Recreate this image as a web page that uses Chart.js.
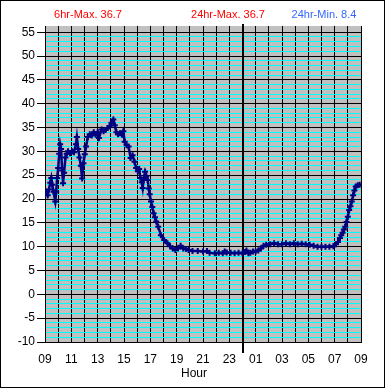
<!DOCTYPE html>
<html>
<head>
<meta charset="utf-8">
<script src="https://cdn.jsdelivr.net/npm/chart.js@4"></script>
<style>
  body { margin: 0; background: #fff; }
  canvas { display: block; }
</style>
</head>
<body>
<canvas id="tempChart" width="385" height="388"></canvas>
<script>
// hours since 09:00
const hourOffsets = [
  0.00, 0.10, 0.20, 0.30, 0.40, 0.48, 0.55, 0.65, 0.78, 0.85, 0.92, 1.00, 1.08, 1.15, 1.22, 1.30,
  1.37, 1.45, 1.55, 1.65, 1.75, 1.90, 2.05, 2.20, 2.35, 2.42, 2.52, 2.62, 2.72, 2.82, 2.92, 3.02,
  3.12, 3.25, 3.40, 3.55, 3.70, 3.85, 4.00, 4.10, 4.30, 4.45, 4.60, 4.75, 4.90, 5.05, 5.19, 5.30,
  5.42, 5.55, 5.70, 5.85, 5.95, 6.05, 6.20, 6.35, 6.50, 6.65, 6.80, 6.92, 7.05, 7.15, 7.25, 7.35,
  7.42, 7.50, 7.60, 7.70, 7.80, 7.88, 7.95, 8.05, 8.15, 8.25, 8.35, 8.45, 8.60, 8.80, 9.05, 9.30,
  9.50, 9.70, 9.90, 10.10, 10.30, 10.50, 10.70, 10.90, 11.20, 11.60, 12.00, 12.30, 12.50, 12.90, 13.20, 13.50,
  13.65, 13.80, 14.10, 14.40, 14.70, 15.00, 15.20, 15.30, 15.45, 15.60, 15.80, 16.00, 16.20, 16.40, 16.60, 16.80,
  17.10, 17.40, 17.70, 18.00, 18.30, 18.60, 18.90, 19.20, 19.50, 19.80, 20.10, 20.40, 20.70, 21.00, 21.30, 21.60,
  21.90, 22.10, 22.25, 22.40, 22.50, 22.60, 22.70, 22.80, 22.90, 23.00, 23.10, 23.20, 23.30, 23.40, 23.50, 23.60,
  23.75, 23.90
];
const temps = [
  21.0, 21.5, 20.8, 22.0, 23.4, 24.4, 23.0, 21.5, 19.5, 21.5, 24.4, 26.5, 29.5, 31.5, 30.5, 26.0,
  23.3, 25.5, 28.7, 29.5, 30.0, 29.6, 30.0, 29.8, 31.5, 33.0, 30.5, 28.7, 27.0, 24.3, 27.5, 29.4,
  31.0, 33.0, 33.6, 33.3, 34.0, 33.5, 34.0, 32.8, 34.6, 34.2, 34.5, 34.9, 35.2, 36.0, 36.7, 35.5,
  34.0, 33.6, 33.8, 33.5, 34.2, 32.0, 31.3, 31.0, 28.6, 29.2, 27.8, 26.5, 25.8, 26.3, 24.4, 23.5,
  22.3, 24.4, 25.7, 24.8, 24.0, 22.2, 21.0, 19.5, 18.3, 17.0, 16.2, 15.3, 14.2, 12.4, 11.4, 10.7,
  10.1, 9.6, 9.3, 9.6, 10.2, 9.6, 9.5, 9.3, 9.1, 9.1, 9.0, 9.1, 8.7, 8.6, 8.7, 8.6,
  9.0, 8.8, 8.7, 8.6, 8.7, 8.6, 8.9, 9.2, 8.6, 8.7, 9.0, 9.0, 9.2, 9.6, 10.2, 10.4,
  10.5, 10.7, 10.5, 10.5, 10.7, 10.5, 10.7, 10.5, 10.6, 10.5, 10.4, 10.2, 10.0, 10.0, 10.0, 10.0,
  10.1, 10.5, 11.0, 11.8, 12.4, 12.9, 13.6, 14.2, 15.2, 16.3, 17.7, 18.5, 19.5, 20.8, 21.8, 22.6,
  22.9, 23.0
];
const hourLabels = ['09', '11', '13', '15', '17', '19', '21', '23', '01', '03', '05', '07', '09'];
const midnightOffset = 15;
const axisTitle = 'Hour';

const headerTexts = [
  { text: '6hr-Max. 36.7', x: 88, color: '#ff0000' },
  { text: '24hr-Max. 36.7', x: 228, color: '#ff0000' },
  { text: '24hr-Min. 8.4', x: 324, color: '#3366ff' }
];

const points = hourOffsets.map((h, i) => ({ x: h, y: temps[i] }));

// gray plot area + white page
const backdrop = {
  id: 'backdrop',
  beforeDraw(chart) {
    const { ctx, chartArea: a } = chart;
    ctx.save();
    ctx.fillStyle = '#ffffff';
    ctx.fillRect(0, 0, chart.width, chart.height);
    ctx.fillStyle = '#c0c0c0';
    ctx.fillRect(a.left, a.top, a.right - a.left, a.bottom - a.top);
    ctx.restore();
  },
  beforeDatasetsDraw(chart) {
    // heavy line at midnight
    const { ctx, chartArea: a } = chart;
    const x = Math.round(chart.scales.x.getPixelForValue(midnightOffset));
    ctx.save();
    ctx.fillStyle = '#000';
    ctx.fillRect(x - 1, a.top - 2, 2, a.bottom - a.top + 13);
    ctx.restore();
  },
  afterDraw(chart) {
    const { ctx } = chart;
    ctx.save();
    ctx.strokeStyle = '#000';
    ctx.lineWidth = 1;
    ctx.strokeRect(0.5, 0.5, chart.width - 1, chart.height - 1);
    ctx.textAlign = 'center';
    ctx.textBaseline = 'middle';
    ctx.font = '11px "Liberation Sans", Arial, sans-serif';
    headerTexts.forEach(t => {
      ctx.fillStyle = t.color;
      ctx.fillText(t.text, t.x, 15);
    });
    ctx.font = '12px "Liberation Sans", Arial, sans-serif';
    ctx.fillStyle = '#000';
    ctx.fillText(axisTitle, 194, 374);
    ctx.restore();
  }
};

const ctx = document.getElementById('tempChart').getContext('2d');

new Chart(ctx, {
  type: 'line',
  data: {
    datasets: [{
      data: points,
      borderColor: '#000080',
      backgroundColor: '#000080',
      borderWidth: 2.5,
      pointStyle: 'cross',
      pointRadius: 3,
      pointBorderWidth: 2,
      pointBorderColor: '#000080',
      tension: 0,
      fill: false
    }]
  },
  options: {
    responsive: false,
    animation: false,
    layout: { padding: { left: 0, right: 24, top: 26, bottom: 0 } },
    plugins: {
      legend: { display: false },
      tooltip: { enabled: false }
    },
    scales: {
      x: {
        type: 'linear',
        min: 0,
        max: 24,
        afterFit: s => { s.height = 46; },
        border: { color: '#000', width: 1 },
        grid: {
          color: '#000',
          lineWidth: 1,
          tickLength: 10,
          tickColor: 'rgba(0,0,0,0)'
        },
        ticks: {
          stepSize: 1,
          autoSkip: false,
          maxRotation: 0,
          padding: 0,
          color: '#000',
          font: { family: '"Liberation Sans", Arial, sans-serif', size: 12 },
          callback: v => (v % 2 === 0 ? hourLabels[v / 2] : '')
        }
      },
      y: {
        min: -10,
        max: 56.3,
        afterFit: s => { s.width = 45; },
        border: { color: '#000', width: 1 },
        grid: {
          color: c => {
            const v = c.tick.value;
            if (!Number.isInteger(v)) return 'rgba(0,0,0,0)';
            return v % 5 === 0 ? '#000' : '#00ffff';
          },
          tickColor: c => (Number.isInteger(c.tick.value) && c.tick.value % 5 === 0 ? '#000' : 'rgba(0,0,0,0)'),
          tickLength: 8,
          lineWidth: 1
        },
        ticks: {
          stepSize: 1,
          autoSkip: false,
          padding: 2,
          color: '#000',
          font: { family: '"Liberation Sans", Arial, sans-serif', size: 12 },
          callback: v => (Number.isInteger(v) && v % 5 === 0 ? String(v) : '')
        }
      }
    }
  },
  plugins: [backdrop]
});
</script>
</body>
</html>
